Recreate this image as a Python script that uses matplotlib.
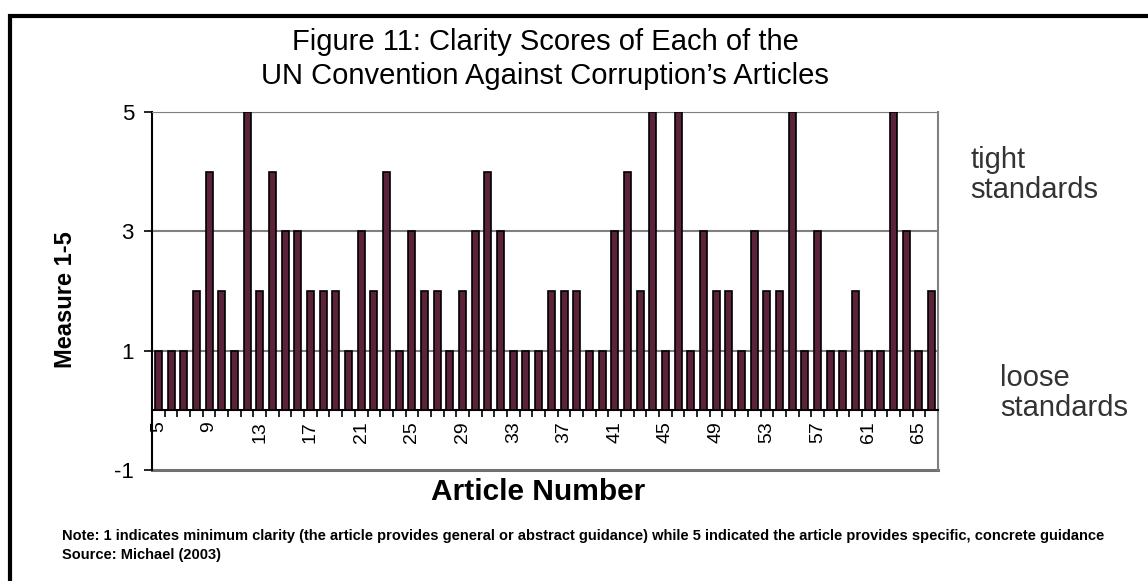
import matplotlib.pyplot as plt
from matplotlib.patches import Rectangle
from matplotlib.ticker import FixedLocator

plt.rcParams['font.family'] = ['Liberation Sans', 'DejaVu Sans']
plt.rcParams['axes.unicode_minus'] = False

# articles 5..66 and their clarity scores
articles = list(range(5, 67))
scores = [1, 1, 1, 2, 4, 2, 1, 5, 2, 4, 3, 3, 2, 2, 2,
          1, 3, 2, 4, 1, 3, 2, 2, 1, 2, 3, 4, 3, 1, 1,
          1, 2, 2, 2, 1, 1, 3, 4, 2, 5, 1, 5, 1, 3, 2,
          2, 1, 3, 2, 2, 5, 1, 3, 1, 1, 2, 1, 1, 5, 3, 1, 2]
label_articles = list(range(5, 67, 4))
y_ticks = [5, 3, 1, -1]
grid_levels = [5, 3, 1]

fig = plt.figure(figsize=(11.48, 5.81), dpi=100)
ax = fig.add_axes([152/1148, 1-470/581, (938-152)/1148, (470-112)/581])

ax.bar(articles, scores, width=0.55, color='#5a2339', edgecolor='black', linewidth=1.2, zorder=3)

ax.set_xlim(articles[0] - 0.5, articles[-1] + 0.5)
ax.set_ylim(-1, 5)

for g in grid_levels:
    ax.axhline(g, color='#808080', linewidth=1.5, zorder=1)
ax.axhline(-1, color='#707070', linewidth=2.2, zorder=1, clip_on=False)

ax.spines['bottom'].set_position(('data', 0))
ax.spines['bottom'].set_color('black')
ax.spines['bottom'].set_linewidth(1.5)
ax.spines['left'].set_linewidth(1.5)
ax.spines['top'].set_color('#808080')
ax.spines['right'].set_color('#808080')
ax.spines['right'].set_linewidth(1.5)

ax.set_yticks(y_ticks)
ax.tick_params(axis='y', direction='out', length=6, width=1.2, labelsize=16, pad=7)

ax.set_xticks(label_articles)
ax.set_xticklabels([str(a) for a in label_articles], rotation=90, fontsize=14)
ax.xaxis.set_minor_locator(FixedLocator([a - 0.5 for a in articles] + [articles[-1] + 0.5]))
ax.tick_params(axis='x', which='major', length=0, pad=8)
ax.tick_params(axis='x', which='minor', direction='out', length=5, width=1.2)

fig.text(545/1148, 1-42/581, "Figure 11: Clarity Scores of Each of the",
         ha='center', va='center', fontsize=21)
fig.text(545/1148, 1-76/581, "UN Convention Against Corruption\u2019s Articles",
         ha='center', va='center', fontsize=21)
fig.text(538/1148, 1-492/581, "Article Number", ha='center', va='center',
         fontsize=21.5, fontweight='bold')
fig.text(65/1148, 1-300/581, "Measure 1-5", ha='center', va='center',
         rotation=90, fontsize=17, fontweight='bold')
fig.text(970/1148, 1-175/581, "tight\nstandards", ha='left', va='center',
         fontsize=21, color='#333333', linespacing=1.05)
fig.text(1000/1148, 1-393/581, "loose\nstandards", ha='left', va='center',
         fontsize=21, color='#333333', linespacing=1.05)
fig.text(62/1148, 1-536/581,
         "Note: 1 indicates minimum clarity (the article provides general or abstract guidance) "
         "while 5 indicated the article provides specific, concrete guidance",
         ha='left', va='center', fontsize=10.5, fontweight='bold')
fig.text(62/1148, 1-555/581, "Source: Michael (2003)", ha='left', va='center',
         fontsize=10.5, fontweight='bold')

fig.patches.append(Rectangle((10/1148, -0.1), 1.2, 1.1 - 16/581, transform=fig.transFigure,
                             fill=False, edgecolor='black', linewidth=3))

fig.savefig('out.png', dpi=100)
